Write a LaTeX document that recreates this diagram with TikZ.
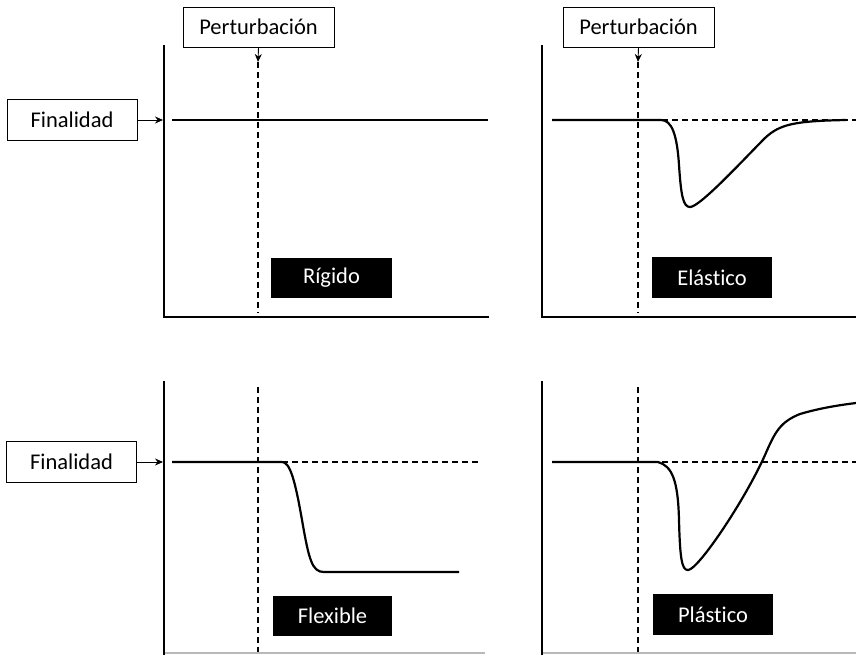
\documentclass[tikz,border=0pt]{standalone}
\usepackage{fontspec}
\setmainfont{Carlito}[Ligatures={NoCommon}]
\usetikzlibrary{arrows.meta}
\begin{document}
\begin{tikzpicture}[x=1pt,y=-1pt,
  wbox/.style={draw=black,line width=0.9pt,fill=white,minimum width=151pt,minimum height=40pt,inner sep=0pt,font=\fontsize{22.5}{24}\selectfont},
  finbox/.style={wbox,minimum width=130pt,minimum height=41pt},
  bbox/.style={fill=black,text=white,minimum width=120pt,minimum height=40pt,inner sep=0pt,font=\fontsize{22.5}{24}\selectfont},
  axis/.style={line width=2pt,line cap=rect},
  baseax/.style={line width=1.6pt,draw=gray!55},
  dsh/.style={line width=1.1pt,dash pattern=on 6pt off 4pt},
  curve/.style={line width=2.2pt,line join=round},
  arr/.style={line width=0.9pt,-{Stealth[length=8pt,width=7pt]}}]
\useasboundingbox (0,0) rectangle (856,654);
\fill[white] (0,0) rectangle (856,654);

% nodes
\node[wbox] (pert1) at (258.5,27) {Perturbación};
\node[wbox] (pert2) at (638.5,27) {Perturbación};
\node[finbox] (fin1) at (72,120) {Finalidad};
\node[finbox] (fin2) at (71.5,462) {Finalidad};
\node[bbox,minimum width=121pt] (rig) at (331.5,278) {Rígido};
\node[bbox,minimum height=41pt] (ela) at (712,277.5) {Elástico};
\node[bbox,minimum width=119pt] (flex) at (332.5,616) {Flexible};
\node[bbox,minimum height=41pt] (plas) at (713,614.5) {Plástico};

\coordinate (p1) at (258,62);
\coordinate (p2) at (638,62);
\coordinate (a1) at (163,120);
\coordinate (a2) at (163,462);

% axes
\draw[axis] (164,46) -- (164,317) -- (488,317);
\draw[axis] (542,46) -- (542,317) -- (856,317);
\draw[axis] (164,382) -- (164,654);
\draw[axis] (542,382) -- (542,654);
\draw[baseax] (165,653) -- (485,653);
\draw[baseax] (543,653) -- (856,653);

% perturbation arrows and dashed verticals
\draw[arr] (pert1.south) -- (p1);
\draw[arr] (pert2.south) -- (p2);
\draw[dsh] (p1) -- (258,313);
\draw[dsh] (p2) -- (638,313);
\draw[dsh] (258,387) -- (258,652);
\draw[dsh] (638,387) -- (638,652);

% finalidad arrows
\draw[arr] (fin1.east) -- (a1);
\draw[arr] (fin2.east) -- (a2);

% reference dashed horizontals
\draw[dsh] (552,120) -- (856,120);
\draw[dsh] (282,462) -- (480,462);
\draw[dsh] (552,462) -- (856,462);

% curves
\draw[curve] (172,120) -- (488,120);
\draw[curve] (552,120) -- (661,120) .. controls (672,120) and (677,135) .. (679,165)
  .. controls (681,195) and (683,207) .. (690,207)
  .. controls (700,207) and (745,158) .. (765,138)
  .. controls (780,124) and (795,121) .. (846,120);
\draw[curve] (172,462) -- (282,462) .. controls (290,462) and (295,480) .. (302,520)
  .. controls (309,560) and (312,572) .. (324,572) -- (459,572);
\draw[curve] (552,462) -- (658,462) .. controls (672,466) and (678,480) .. (679,520)
  .. controls (680,560) and (682,570) .. (688,570)
  .. controls (698,570) and (745,500) .. (765,455)
  .. controls (775,432) and (780,422) .. (800,414)
  .. controls (820,408) and (840,405) .. (856,403);
\end{tikzpicture}
\end{document}
